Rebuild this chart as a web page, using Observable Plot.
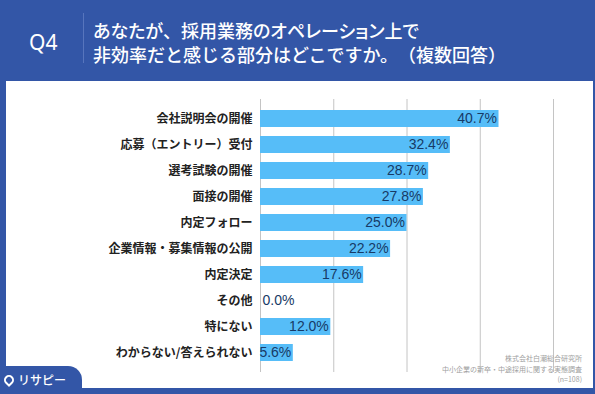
<!DOCTYPE html>
<html lang="ja">
<head>
<meta charset="utf-8">
<script src="https://cdn.jsdelivr.net/npm/d3@7"></script>
<script src="https://cdn.jsdelivr.net/npm/@observablehq/plot@0.6"></script>
<style>
  html, body { margin: 0; padding: 0; }
  body { width: 595px; height: 394px; background: #3356a7; position: relative; overflow: hidden;
         font-family: "Noto Sans CJK JP", "Noto Sans", sans-serif; }
  #q { position: absolute; left: 29px; top: 27px; color: #fff; font: 400 21px "Noto Sans", "Liberation Sans", sans-serif; line-height: 30px; }
  #divider { position: absolute; left: 83px; top: 13px; width: 1px; height: 50px; background: #5775bd; }
  #title { position: absolute; left: 93px; top: 18px; color: #fff; font-size: 18px; line-height: 24px; font-weight: 500;
           white-space: nowrap; text-spacing-trim: space-all; }
  #title .l1 { font-feature-settings: "palt"; }
  #title .p { font-feature-settings: normal; }
  #panel { position: absolute; left: 6px; top: 81px; width: 587px; height: 307px; background: #fff; }
  #chart { position: absolute; left: 0; top: 0; }
  #source { position: absolute; right: 11px; top: 272px; text-align: right; color: #a0a0a0; font-size: 7px; line-height: 10.5px; }
  #tab { position: absolute; left: 0; top: 366px; width: 82px; height: 28px; background: #3356a7; border-top-right-radius: 14px; }
  #logo { position: absolute; left: 4px; top: 372px; color: #fff; font-size: 12px; font-weight: 500; line-height: 16px; white-space: nowrap; }
  #pin { display: inline-block; width: 6px; height: 6px; border: 2.5px solid #fff; background: #3356a7; border-radius: 50% 50% 50% 0; transform: rotate(-45deg); vertical-align: 0px; margin-right: 4px; }
</style>
</head>
<body>
<div id="q">Q4</div>
<div id="divider"></div>
<div id="title"><span class="l1">あなたが<span class="p">、</span>採用業務のオペレーション上で</span><br>非効率だと感じる部分はどこですか。（複数回答）</div>
<div id="panel">
  <div id="chart"></div>
  <div id="source">株式会社白潮総合研究所<br>中小企業の新卒・中途採用に関する実態調査<br>(n=108)</div>
</div>
<div id="tab"></div>
<div id="logo"><span id="pin"></span>リサピー</div>
<script>
const categories = [
  "会社説明会の開催",
  "応募（エントリー）受付",
  "選考試験の開催",
  "面接の開催",
  "内定フォロー",
  "企業情報・募集情報の公開",
  "内定決定",
  "その他",
  "特にない",
  "わからない/答えられない"
];
const values = [40.7, 32.4, 28.7, 27.8, 25.0, 22.2, 17.6, 0.0, 12.0, 5.6];
const gridTicks = [0, 12.5, 25, 37.5, 50];

const data = categories.map((c, i) => ({category: c, value: values[i]}));

const chart = Plot.plot({
  width: 587,
  height: 300,
  marginLeft: 254,
  marginRight: 40,
  marginTop: 18,
  marginBottom: 9,
  style: {fontFamily: "'Noto Sans CJK JP', sans-serif", background: "transparent", overflow: "visible"},
  x: {domain: [0, 50], axis: null},
  y: {domain: categories, padding: 0.34, axis: null},
  marks: [
    Plot.ruleX(gridTicks, {stroke: "#c4c4c4", strokeWidth: 1, strokeOpacity: 1}),
    Plot.barX(data, {x: "value", y: "category", fill: "#56bdf8"}),
    Plot.axisY({tickSize: 0, tickPadding: 8, fontSize: 12, fontWeight: "bold", fill: "#222", textAnchor: "end", label: null}),
    Plot.text(data.filter(d => d.value > 0), {
      x: "value", y: "category", text: d => d.value.toFixed(1) + "%",
      textAnchor: "end", dx: -2, fill: "#173a66", fontSize: 14,
      fontFamily: "'Liberation Sans', Arial, sans-serif"
    }),
    Plot.text(data.filter(d => d.value === 0), {
      x: "value", y: "category", text: d => d.value.toFixed(1) + "%",
      textAnchor: "start", dx: 2, fill: "#173a66", fontSize: 14,
      fontFamily: "'Liberation Sans', Arial, sans-serif"
    })
  ]
});
document.getElementById("chart").appendChild(chart);
</script>
</body>
</html>
